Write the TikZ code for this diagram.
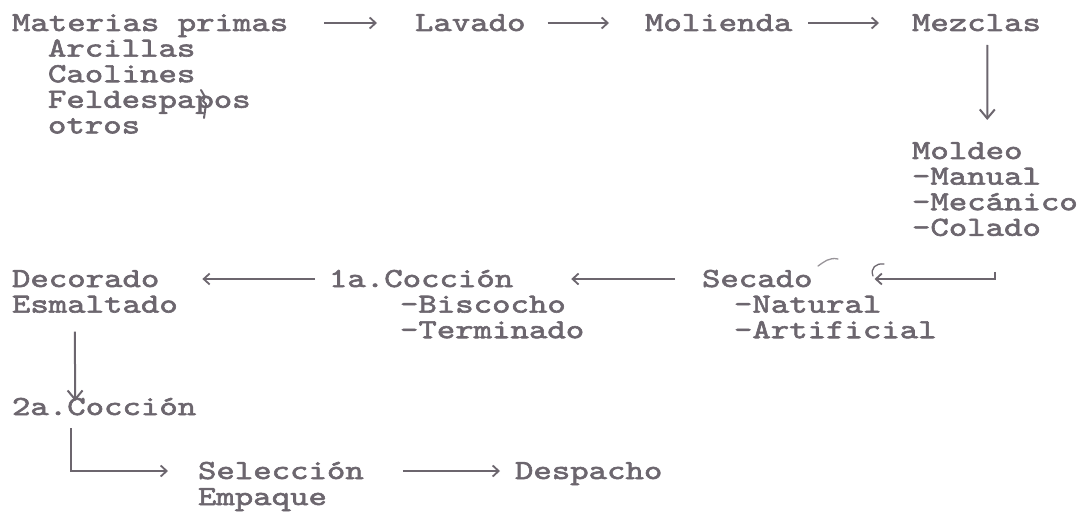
\documentclass[tikz,border=0pt]{standalone}
\usetikzlibrary{arrows.meta,calc}
\definecolor{ink}{RGB}{108,102,110}
\font\twfont="[lmmono10-regular.otf]:extend=1.276;embolden=2.2" at 27.5pt
\begin{document}
\begin{tikzpicture}[x=1pt,y=-1pt,
  t/.style={inner sep=0pt,outer sep=0pt,anchor=base west,text height=16pt,text depth=0pt,text=ink,
            font=\twfont},
  arr/.style={draw=ink,line width=2pt,-{Straight Barb[length=6pt,width=11pt,line width=1.8pt]}},
  arrd/.style={draw=ink,line width=2pt,-{Straight Barb[length=9pt,width=15pt,line width=2pt]}},
  pen/.style={draw=ink,line width=2pt,line cap=round,line join=round}]
\useasboundingbox (0,0) rectangle (1085,516);
% row 1
\node[t] (mat) at (12,31) {Materias primas};
\node[t] (lav) at (415,31) {Lavado};
\node[t] (mol) at (645,31) {Molienda};
\node[t] (mez) at (912,31) {Mezclas};
\node[t] (arc) at (48,56.6) {Arcillas};
\node[t] (cao) at (48,82.2) {Caolines};
\node[t] (fel) at (48,107.8) {Feldespapos};
\node[t] (otr) at (48,133.4) {otros};
% moldeo
\node[t] (mold) at (912,159) {Moldeo};
\node[t] (man) at (912,184.6) {-Manual};
\node[t] (mec) at (912,210.2) {-Mecánico};
\node[t] (col) at (912,235.8) {-Colado};
% middle row
\node[t] (sec) at (702,287) {Secado};
\node[t] (nat) at (734,312.6) {-Natural};
\node[t] (art) at (734,338.2) {-Artificial};
\node[t] (c1) at (329,287) {1a.Cocción};
\node[t] (bis) at (400,312.6) {-Biscocho};
\node[t] (ter) at (400,338.2) {-Terminado};
\node[t] (dec) at (12,287) {Decorado};
\node[t] (esm) at (12,312.6) {Esmaltado};
% bottom
\node[t] (c2) at (12,415) {2a.Cocción};
\node[t] (sel) at (198,479) {Selección};
\node[t] (emp) at (198,505) {Empaque};
\node[t] (des) at (515,479) {Despacho};
% connectors
\draw[arr] ([xshift=36pt]mat.east) -- ([xshift=-38pt]lav.west);
\draw[arr] ([xshift=22pt]lav.east) -- ([xshift=-36pt]mol.west);
\draw[arr] ([xshift=16pt]mol.east) -- ([xshift=-33pt]mez.west);
\draw[arrd] ([xshift=11pt,yshift=-14pt]mez.south) -- ([xshift=20pt,yshift=23pt]mold.north);
\draw[arr] ([xshift=19pt,yshift=-36pt]col.south) -- ([xshift=19pt]col.south |- sec.east) -- ([xshift=62pt]sec.east);
\draw[arr] ([xshift=-27pt]sec.west) -- ([xshift=58pt]c1.east);
\draw[arr] ([xshift=-14pt]c1.west) -- ([xshift=43pt]dec.east);
\draw[arrd] ([xshift=-20pt,yshift=-19pt]esm.south) -- ([xshift=-29pt,yshift=-2pt]c2.north);
\draw[arr] ([xshift=-33pt,yshift=-13pt]c2.south) |- ([xshift=-30pt]sel.west);
\draw[arr] ([xshift=39pt]sel.east) -- ([xshift=-15pt]des.west);
% pen marks
\draw[pen] (201,90) -- (205,97) -- (203,101) -- (206,104) -- (204,118);
\draw[pen,line width=1.3pt,draw=ink!70] (818,266) .. controls (824,262) and (829,257) .. (838,259);
\draw[pen,line width=1.3pt] (873,276) .. controls (870,268) and (876,263) .. (884,264);
\end{tikzpicture}
\end{document}
